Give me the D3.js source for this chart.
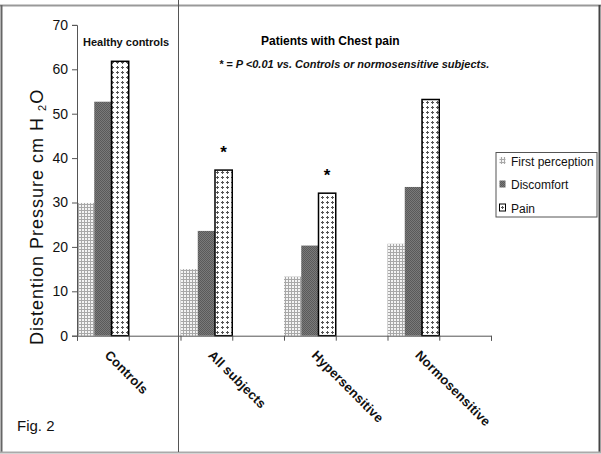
<!DOCTYPE html>
<html><head><meta charset="utf-8">
<script src="https://cdn.jsdelivr.net/npm/d3@7"></script>
<style>body{margin:0;background:#fff}svg{display:block}text{font-family:"Liberation Sans",Arial,sans-serif}</style>
</head><body>
<script>
const categories = ["Controls", "All subjects", "Hypersensitive", "Normosensitive"];
const series = ["First perception", "Discomfort", "Pain"];
const firstPerception = [29.9, 15.0, 13.3, 20.7];
const discomfort = [52.7, 23.6, 20.3, 33.5];
const pain = [61.8, 37.3, 32.1, 53.2];
const significant = [false, true, true, false];
const yTicks = [0, 10, 20, 30, 40, 50, 60, 70];

const W = 601, H = 454;
const svg = d3.select("body").append("svg").attr("width", W).attr("height", H);
const defs = svg.append("defs");

// patterns
const p1 = defs.append("pattern").attr("id", "pFP").attr("patternUnits", "userSpaceOnUse").attr("width", 3).attr("height", 3);
p1.append("rect").attr("width", 3).attr("height", 3).attr("fill", "#f4f4f4");
p1.append("rect").attr("width", 3).attr("height", 1).attr("fill", "#a8a8a8");
p1.append("rect").attr("width", 1).attr("height", 3).attr("fill", "#a8a8a8");

const p2 = defs.append("pattern").attr("id", "pD").attr("patternUnits", "userSpaceOnUse").attr("width", 2).attr("height", 2);
p2.append("rect").attr("width", 2).attr("height", 2).attr("fill", "#7a7a7a");
p2.append("rect").attr("width", 1).attr("height", 1).attr("fill", "#5a5a5a");
p2.append("rect").attr("x", 1).attr("y", 1).attr("width", 1).attr("height", 1).attr("fill", "#5a5a5a");

const p3 = defs.append("pattern").attr("id", "pP").attr("patternUnits", "userSpaceOnUse").attr("width", 5).attr("height", 5);
p3.append("rect").attr("width", 5).attr("height", 5).attr("fill", "#ffffff");
p3.append("rect").attr("x", 1).attr("y", 2).attr("width", 3).attr("height", 1).attr("fill", "#555");
p3.append("rect").attr("x", 2).attr("y", 1).attr("width", 1).attr("height", 3).attr("fill", "#555");

const fills = {"First perception": "url(#pFP)", "Discomfort": "url(#pD)", "Pain": "url(#pP)"};
const values = {"First perception": firstPerception, "Discomfort": discomfort, "Pain": pain};

// frame
svg.append("line").attr("x1", 0).attr("x2", W).attr("y1", 5.5).attr("y2", 5.5).attr("stroke", "#999").attr("stroke-width", 2);
svg.append("line").attr("x1", 1.5).attr("x2", 1.5).attr("y1", 5).attr("y2", 452).attr("stroke", "#666").attr("stroke-width", 2);
svg.append("line").attr("x1", 599.5).attr("x2", 599.5).attr("y1", 5).attr("y2", 452).attr("stroke", "#444").attr("stroke-width", 2);
svg.append("line").attr("x1", 0).attr("x2", W).attr("y1", 452.5).attr("y2", 452.5).attr("stroke", "#aaa").attr("stroke-width", 2);
svg.append("line").attr("x1", 178.5).attr("x2", 178.5).attr("y1", 0).attr("y2", 452).attr("stroke", "#555").attr("stroke-width", 1);

// scales
const x = d3.scaleBand().domain(categories).range([77, 491]).paddingInner(0.5).paddingOuter(0.25).align(0);
const xs = d3.scaleBand().domain(series).range([0, x.bandwidth()]).padding(0);
const y = d3.scaleLinear().domain([0, 70]).range([335.7, 24.9]);

// bars
categories.forEach((c, i) => {
  series.forEach(s => {
    const v = values[s][i];
    const r = svg.append("rect")
      .attr("x", x(c) + xs(s)).attr("y", y(v))
      .attr("width", xs.bandwidth()).attr("height", y(0) - y(v))
      .attr("fill", fills[s]);
    if (s === "Pain") r.attr("stroke", "#000").attr("stroke-width", 1.5);
  });
  if (significant[i]) {
    svg.append("text").attr("x", x(c) + xs("Pain") + xs.bandwidth() / 2).attr("y", y(pain[i]) - 12)
      .attr("text-anchor", "middle").attr("font-size", 17).attr("font-weight", "bold").text("*");
  }
});

// y axis
const yAxis = svg.append("g").attr("transform", "translate(77,0)")
  .call(d3.axisLeft(y).tickValues(yTicks).tickSize(5).tickPadding(4).tickFormat(d3.format("d")));
yAxis.select(".domain").attr("stroke", "#555");
yAxis.selectAll(".tick line").attr("stroke", "#555");
yAxis.selectAll("text").attr("font-size", 14).attr("fill", "#111").attr("font-family", "Liberation Sans, Arial, sans-serif");

// x axis: tick at every slot boundary
const slotEdges = [];
categories.forEach(c => { slotEdges.push(x(c)); slotEdges.push(x(c) + x.bandwidth()); });
slotEdges.push(x(categories[categories.length - 1]) + x.step());
const xLin = d3.scaleLinear().domain([77, 491]).range([77, 491]);
const xAxis = svg.append("g").attr("transform", `translate(0,${y(0)})`)
  .call(d3.axisBottom(xLin).tickValues(slotEdges).tickSize(5).tickFormat(""));
xAxis.select(".domain").attr("stroke", "#555");
xAxis.selectAll(".tick line").attr("stroke", "#555");

// category labels
categories.forEach(c => {
  const cx = x(c) + x.bandwidth() / 2 + 1;
  svg.append("text").attr("transform", `translate(${cx},356) rotate(45)`)
    .attr("font-size", 13).attr("font-weight", "bold").attr("letter-spacing", 0.2).attr("fill", "#111").text(c);
});

// y title
const yt = svg.append("text").attr("transform", "translate(43,345) rotate(-90)")
  .attr("text-anchor", "start").attr("font-size", 18).attr("fill", "#111").attr("letter-spacing", 1.0);
yt.append("tspan").text("Distention Pressure cm H ");
yt.append("tspan").attr("font-size", 11).attr("dy", 3).text("2");
yt.append("tspan").attr("dy", -3).text("O");

// annotations
svg.append("text").attr("x", 83).attr("y", 46).attr("font-size", 11).attr("font-weight", "bold").attr("fill", "#111").text("Healthy controls");
svg.append("text").attr("x", 261).attr("y", 45).attr("font-size", 12).attr("font-weight", "bold").attr("fill", "#000").text("Patients with Chest pain");
svg.append("text").attr("x", 219).attr("y", 68).attr("font-size", 11).attr("font-weight", "bold").attr("font-style", "italic").attr("fill", "#111")
  .text("* = P <0.01 vs. Controls or normosensitive subjects.");
svg.append("text").attr("x", 17).attr("y", 431).attr("font-size", 15).attr("fill", "#111").text("Fig. 2");

// legend
const lg = svg.append("g");
lg.append("rect").attr("x", 496).attr("y", 152.5).attr("width", 101).attr("height", 64.5).attr("fill", "#fff").attr("stroke", "#555");
series.forEach((s, i) => {
  const yy = 161 + i * 23.5;
  lg.append("rect").attr("x", 499.5).attr("y", yy - 4).attr("width", 6).attr("height", 7).attr("fill", fills[s])
    .attr("stroke", s === "Pain" ? "#000" : "none").attr("stroke-width", 1);
  lg.append("text").attr("x", 511).attr("y", yy + 4.5).attr("font-size", 12).attr("fill", "#111").text(s);
});
</script>
</body></html>
